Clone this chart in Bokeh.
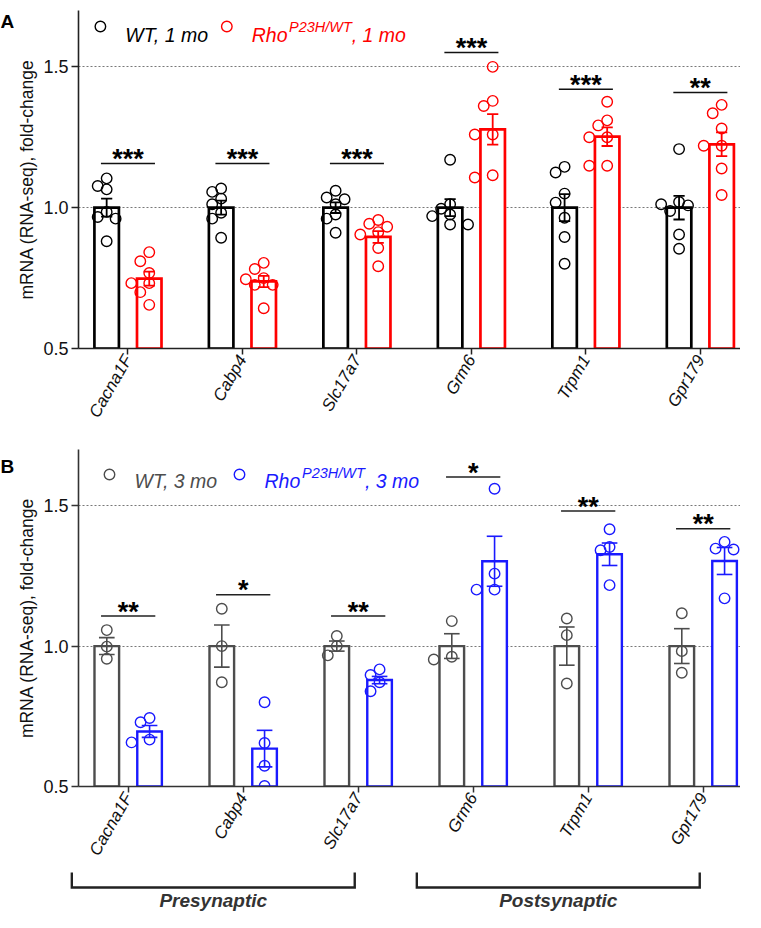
import math
from bokeh.plotting import figure
from bokeh.layouts import column, row
from bokeh.models import Range1d, FixedTicker, PrintfTickFormatter
from bokeh.core.properties import value
from bokeh.embed import file_html
from bokeh.resources import INLINE

# ---------------- data ----------------
genes = ["Cacna1F", "Cabp4", "Slc17a7", "Grm6", "Trpm1", "Gpr179"]
y_ticks = [0.5, 1.0, 1.5]
groups = ["Presynaptic", "Postsynaptic"]
group_first = [0, 3]
group_last = [2, 5]

# Panel A: 1 month
wt1_points = [
    [1.104, 1.077, 1.065, 0.985, 0.967, 0.961, 0.881],
    [1.068, 1.056, 1.032, 1.012, 0.982, 0.961, 0.893],
    [1.060, 1.036, 1.030, 1.012, 0.976, 0.961, 0.911],
    [1.170, 1.012, 0.996, 0.976, 0.970, 0.940, 0.940],
    [1.145, 1.125, 1.050, 1.018, 0.964, 0.896, 0.801],
    [1.208, 1.020, 1.012, 1.008, 0.988, 0.905, 0.854],
]
mut1_points = [
    [0.842, 0.810, 0.768, 0.732, 0.732, 0.700, 0.655],
    [0.804, 0.782, 0.750, 0.746, 0.726, 0.726, 0.643],
    [0.956, 0.943, 0.932, 0.913, 0.905, 0.857, 0.792],
    [1.500, 1.379, 1.361, 1.260, 1.260, 1.115, 1.107],
    [1.376, 1.310, 1.292, 1.250, 1.250, 1.149, 1.149],
    [1.365, 1.335, 1.281, 1.220, 1.220, 1.139, 1.045],
]
wt1_mean = [1.0, 1.0, 1.0, 1.0, 1.0, 1.0]
mut1_mean = [0.748, 0.738, 0.896, 1.278, 1.252, 1.225]
wt1_sem = [0.032, 0.025, 0.019, 0.030, 0.048, 0.042]
mut1_sem = [0.025, 0.020, 0.021, 0.054, 0.033, 0.042]
sig1_labels = ["***", "***", "***", "***", "***", "**"]
sig1_heights = [1.157, 1.157, 1.157, 1.551, 1.420, 1.409]

# Panel B: 3 months
wt3_points = [
    [1.057, 0.998, 0.955],
    [1.133, 1.000, 0.871],
    [1.036, 1.000, 0.967],
    [1.089, 0.962, 0.952],
    [1.098, 1.039, 0.867],
    [1.117, 0.982, 0.905],
]
mut3_points = [
    [0.744, 0.729, 0.667, 0.657],
    [0.800, 0.655, 0.574, 0.502],
    [0.917, 0.897, 0.871, 0.839],
    [1.560, 1.258, 1.201, 1.201],
    [1.416, 1.353, 1.341, 1.217],
    [1.371, 1.347, 1.344, 1.170],
]
wt3_mean = [1.0, 1.0, 1.0, 1.0, 1.0, 1.0]
mut3_mean = [0.696, 0.635, 0.879, 1.302, 1.327, 1.303]
wt3_sem = [0.030, 0.075, 0.018, 0.044, 0.068, 0.062]
mut3_sem = [0.021, 0.065, 0.013, 0.089, 0.040, 0.048]
sig3_labels = ["**", "*", "**", "*", "**", "**"]
sig3_heights = [1.107, 1.183, 1.107, 1.602, 1.481, 1.418]

# ---------------- layout constants ----------------
FONT_NAME = "Liberation Sans"
FONT = value(FONT_NAME)
W = 740
LW = 14              # width of the strip holding the panel letter
PW = W - LW
PXU = 115.0          # px per category
X0 = -0.432
Y0, Y1 = 0.5, 1.7
OFF = 0.186          # bar offset from category centre
BAR_W = 0.214


def blank(width, height):
    f = figure(width=width, height=height, x_range=Range1d(0, width),
               y_range=Range1d(height, 0), output_backend="svg",
               toolbar_location=None, min_border=0,
               x_axis_location=None, y_axis_location=None)
    f.outline_line_color = None
    f.grid.visible = False
    f.background_fill_color = "white"
    f.border_fill_color = "white"
    return f


def letter_strip(letter, height, baseline):
    f = blank(LW, height)
    f.text(x=[0], y=[baseline], text=[letter], text_font=FONT,
           text_font_style="bold", text_font_size="19px", text_color="#000000",
           text_align="left", text_baseline="alphabetic")
    return f


def swarm(vals, ppu_y, step_px=9.0, min_px=9.6):
    placed = []
    offs = [0.0] * len(vals)
    order = sorted(range(len(vals)), key=lambda i: -vals[i])
    cands = [0]
    for m in range(1, 8):
        cands += [-m, m]
    for i in order:
        yp = vals[i] * ppu_y
        xp = 0.0
        for c in cands:
            xp = c * step_px
            if all((xp - a) ** 2 + (yp - b) ** 2 >= min_px ** 2 for a, b in placed):
                break
        placed.append((xp, yp))
        offs[i] = xp / PXU
    return offs


def make_panel(height, left, top, bottom, c_wt, c_mut, wt_pts, mut_pts,
               wt_mean, mut_mean, wt_sem, mut_sem, sig_lab, sig_h,
               leg, age, bar_lw, eb_lw, cap, sig_col, axis_col):
    frame_h = height - top - bottom
    ppu_y = frame_h / (Y1 - Y0)
    frame_w = PW - left
    x_end = X0 + frame_w / PXU
    p = figure(width=PW, height=height, x_range=Range1d(X0, x_end),
               y_range=Range1d(Y0, Y1), output_backend="svg",
               toolbar_location=None, min_border_left=left, min_border_right=0,
               min_border_top=top, min_border_bottom=bottom)
    p.outline_line_color = None
    p.background_fill_color = "white"
    p.border_fill_color = "white"
    p.xgrid.visible = False
    p.ygrid.ticker = FixedTicker(ticks=[1.0, 1.5])
    p.ygrid.grid_line_dash = "2 2"
    p.ygrid.grid_line_color = "#555555"
    p.ygrid.grid_line_width = 0.8

    # axes
    p.yaxis.ticker = FixedTicker(ticks=y_ticks)
    p.yaxis.formatter = PrintfTickFormatter(format="%.1f")
    p.yaxis.axis_label = "mRNA (RNA-seq), fold-change"
    p.yaxis.axis_label_text_font = FONT_NAME
    p.yaxis.axis_label_text_font_style = "normal"
    p.yaxis.axis_label_text_font_size = "17.5px"
    p.yaxis.axis_label_text_color = "#111111"
    p.yaxis.axis_label_standoff = 3
    p.yaxis.major_label_text_font = FONT_NAME
    p.yaxis.major_label_text_font_size = "18px"
    p.yaxis.major_label_text_color = "#111111"
    p.yaxis.major_label_standoff = 3
    p.xaxis.ticker = FixedTicker(ticks=list(range(len(genes))))
    p.xaxis.major_label_overrides = {i: g for i, g in enumerate(genes)}
    p.xaxis.major_label_orientation = math.pi / 3
    p.xaxis.major_label_text_font = FONT_NAME
    p.xaxis.major_label_text_font_style = "italic"
    p.xaxis.major_label_text_font_size = "17px"
    p.xaxis.major_label_text_color = "#111111"
    p.xaxis.major_label_standoff = 2
    for ax in (p.xaxis[0], p.yaxis[0]):
        ax.axis_line_color = axis_col
        ax.axis_line_width = 1.6
        ax.major_tick_line_color = axis_col
        ax.major_tick_line_width = 1.5
        ax.major_tick_in = 0
        ax.minor_tick_in = 0
        ax.minor_tick_out = 0
    p.yaxis.major_tick_out = 7
    p.xaxis.major_tick_out = 6

    xs = list(range(len(genes)))
    x_wt = [x - OFF for x in xs]
    x_mut = [x + OFF for x in xs]

    # bars
    p.vbar(x=x_wt, top=wt_mean, bottom=Y0, width=BAR_W, fill_color="white",
           line_color=c_wt, line_width=bar_lw, line_join="miter")
    p.vbar(x=x_mut, top=mut_mean, bottom=Y0, width=BAR_W, fill_color="white",
           line_color=c_mut, line_width=bar_lw, line_join="miter")

    # error bars (mean +/- SEM)
    for xv, mv, sv, col in ((x_wt, wt_mean, wt_sem, c_wt), (x_mut, mut_mean, mut_sem, c_mut)):
        lo = [m - s for m, s in zip(mv, sv)]
        hi = [m + s for m, s in zip(mv, sv)]
        p.segment(x0=xv, y0=lo, x1=xv, y1=hi, line_color=col, line_width=eb_lw)
        p.segment(x0=[x - cap for x in xv], y0=hi, x1=[x + cap for x in xv], y1=hi,
                  line_color=col, line_width=eb_lw)
        p.segment(x0=[x - cap for x in xv], y0=lo, x1=[x + cap for x in xv], y1=lo,
                  line_color=col, line_width=eb_lw)

    # individual animals
    for xv, pts, col in ((x_wt, wt_pts, c_wt), (x_mut, mut_pts, c_mut)):
        px, py = [], []
        for xc, vals in zip(xv, pts):
            offs = swarm(vals, ppu_y)
            px += [xc + o for o in offs]
            py += vals
        p.scatter(x=px, y=py, size=10.5, marker="circle", fill_color=None,
                  line_color=col, line_width=1.4)

    # significance
    half = 0.236
    p.segment(x0=[x - half for x in xs], y0=sig_h, x1=[x + half for x in xs], y1=sig_h,
              line_color=sig_col, line_width=1.5)
    p.text(x=xs, y=[h + 4.5 / ppu_y for h in sig_h], text=sig_lab,
           text_font=FONT, text_font_style="bold", text_font_size="27px",
           text_color="#000000", text_align="center", text_baseline="alphabetic")

    # helpers: canvas px (of this figure) -> data
    def dx(px_rel):
        return X0 + (px_rel - left) / PXU

    def dy(py_rel):
        return Y0 + (top + frame_h - py_rel) / ppu_y

    # legend
    p.scatter(x=[dx(leg[0]), dx(leg[2])], y=[dy(leg[4]), dy(leg[4])], size=10.5,
              marker="circle", fill_color=None, line_color=[c_wt, c_mut], line_width=1.4)
    p.text(x=[dx(leg[1])], y=[dy(leg[5])], text=["WT, %s" % age], text_font=FONT,
           text_font_style="italic", text_font_size="19.5px", text_color=c_wt,
           text_baseline="alphabetic", text_align="left")
    rho_x = dx(leg[3])
    sup_x = rho_x + 37.5 / PXU
    end_x = sup_x + 63.0 / PXU
    p.text(x=[rho_x], y=[dy(leg[5])], text=["Rho"], text_font=FONT,
           text_font_style="italic", text_font_size="19.5px", text_color=c_mut,
           text_baseline="alphabetic", text_align="left")
    p.text(x=[sup_x], y=[dy(leg[5] - 8)], text=["P23H/WT"], text_font=FONT,
           text_font_style="italic", text_font_size="14.5px", text_color=c_mut,
           text_baseline="alphabetic", text_align="left")
    p.text(x=[end_x], y=[dy(leg[5])], text=[", %s" % age], text_font=FONT,
           text_font_style="italic", text_font_size="19.5px", text_color=c_mut,
           text_baseline="alphabetic", text_align="left")
    return p


# Panel A: canvas at page x=22, y=8..436
HA = 428
pA = make_panel(HA, 61, 10, 80, "#000000", "#ff0000",
                wt1_points, mut1_points, wt1_mean, mut1_mean, wt1_sem, mut1_sem,
                sig1_labels, sig1_heights,
                [83, 108, 210, 235, 26, 34], "1 mo", 2.7, 1.8, 0.049, "#111111", "#222222")
# Panel B: canvas at page x=22, y=436..874
HB = 438
pB = make_panel(HB, 64, 21, 80, "#4d4d4d", "#1a1aff",
                wt3_points, mut3_points, wt3_mean, mut3_mean, wt3_sem, mut3_sem,
                sig3_labels, sig3_heights,
                [95, 120, 225, 250, 46, 52], "3 mo", 2.4, 1.6, 0.068, "#222222", "#333333")

# bracket strip under panel B (same horizontal scale as panel B), page y=874..920
CH = 46
xc0 = X0 - (86 - 8) / PXU
pC = figure(width=W, height=CH, x_range=Range1d(xc0, xc0 + W / PXU),
            y_range=Range1d(CH, 0), output_backend="svg", toolbar_location=None,
            min_border=0, x_axis_location=None, y_axis_location=None)
pC.outline_line_color = None
pC.grid.visible = False
for name, f, l in zip(groups, group_first, group_last):
    xl, xr = f - 0.49, l - 0.03
    pC.line(x=[xl, xl, xr, xr], y=[6, 21, 21, 6], line_color="#222222",
            line_width=2.4, line_join="miter")
    pC.text(x=[(xl + xr) / 2], y=[34], text=[name], text_font=FONT,
            text_font_style="bold italic", text_font_size="19px",
            text_color="#333333", text_align="center", text_baseline="alphabetic")

layout = column(row(letter_strip("A", HA, 14), pA, spacing=0),
                row(letter_strip("B", HB, 22), pB, spacing=0),
                pC, spacing=0)
open("out.html", "w").write(file_html(layout, INLINE))
